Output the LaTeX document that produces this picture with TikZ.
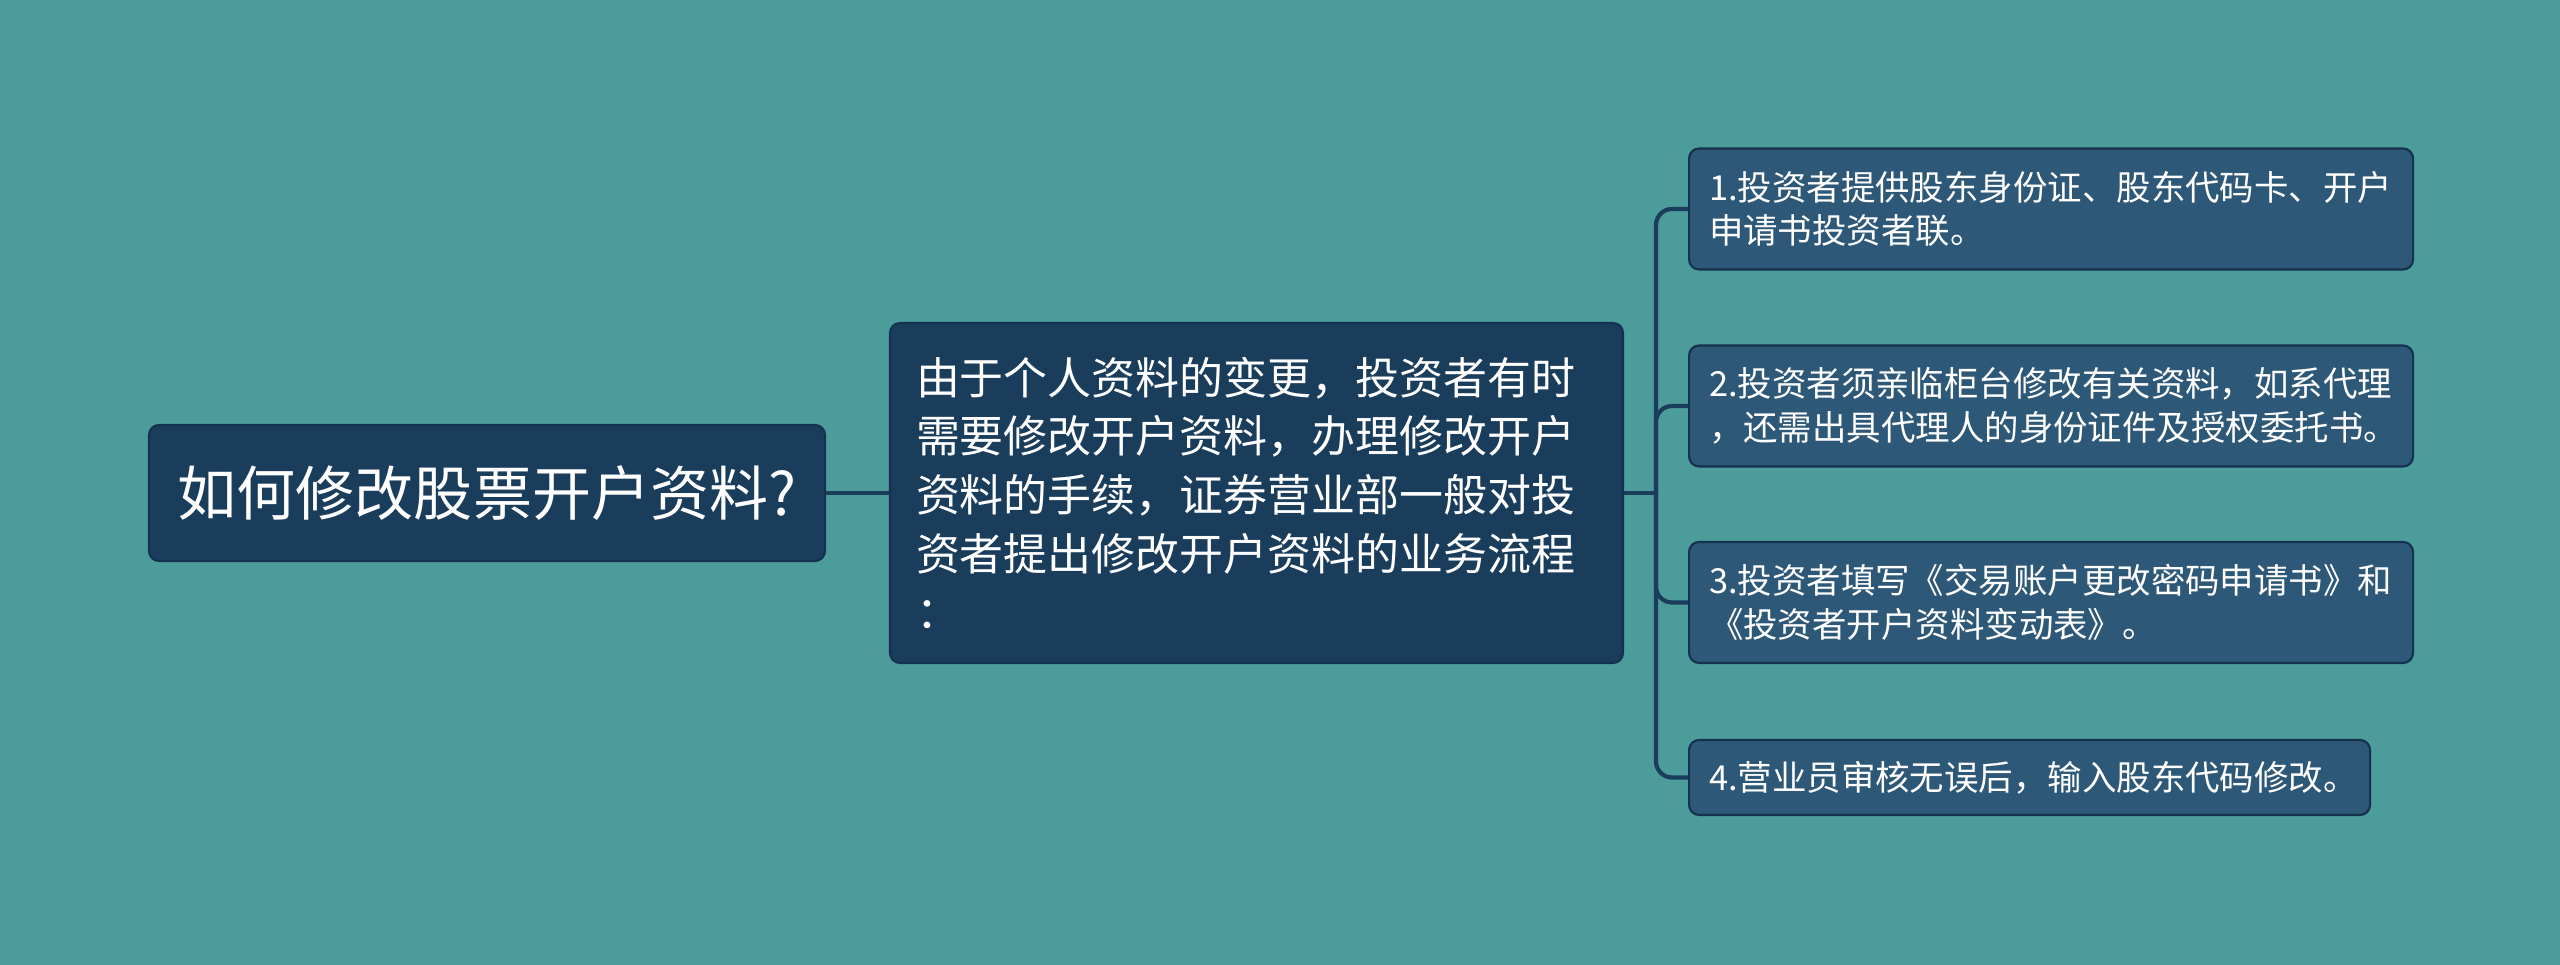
\documentclass[tikz,border=0pt]{standalone}
\usepackage{fontspec}
\newfontfamily\cjk{Noto Sans CJK SC}
\definecolor{lagoon}{HTML}{4D9C9C}
\definecolor{deepnavy}{HTML}{1A3D5C}
\definecolor{harbor}{HTML}{2E5877}
\definecolor{edgenavy}{HTML}{14324D}

\tikzset{
  topicbox/.style={draw=edgenavy, line width=0.6pt, fill=deepnavy, rounded corners=0.1cm,
    text=white, font=\cjk},
  itembox/.style={draw=edgenavy, line width=0.6pt, fill=harbor, rounded corners=0.1cm,
    text=white, anchor=west, align=left, inner xsep=0.2cm, minimum height=1.21cm,
    text width=6.84cm, font=\cjk\fontsize{9.8}{12.5}\selectfont},
  link/.style={deepnavy, line width=1.2pt}
}

\begin{document}
\begin{tikzpicture}
  \useasboundingbox (0,0) rectangle (25.6,9.65);
  \fill[lagoon] (0,0) rectangle (25.6,9.65);

  % ── Root topic (left) ──
  \node[topicbox, minimum width=6.76cm, minimum height=1.36cm,
        font=\cjk\fontsize{16.8}{20}\selectfont] (root) at (4.87,4.72) {如何修改股票开户资料?};

  % ── Middle explanation ──
  \node[topicbox, text width=6.81cm, align=left, minimum height=3.40cm, inner xsep=0.26cm,
        font=\cjk\fontsize{12.5}{16.7}\selectfont] (mid) at (12.565,4.72)
        {由于个人资料的变更，投资者有时\\需要修改开户资料，办理修改开户\\资料的手续，证券营业部一般对投\\资者提出修改开户资料的业务流程\\：};

  % ── Steps (right) ──
  \node[itembox] (c1) at (16.88,7.56) {1.投资者提供股东身份证、股东代码卡、开户\\申请书投资者联。};
  \node[itembox] (c2) at (16.88,5.59) {2.投资者须亲临柜台修改有关资料，如系代理\\，还需出具代理人的身份证件及授权委托书。};
  \node[itembox] (c3) at (16.88,3.625) {3.投资者填写《交易账户更改密码申请书》和\\《投资者开户资料变动表》。};
  \node[itembox, minimum height=0.75cm, text width=6.41cm] (c4) at (16.88,1.875) {4.营业员审核无误后，输入股东代码修改。};

  % ── Connectors ──
  \coordinate (jn) at (16.56,4.72);
  \draw[link] (root.east) -- (mid.west);
  \draw[link] (mid.east) -- (jn);
  \foreach \c in {c1,c2,c3,c4}
    \draw[link, rounded corners=0.16cm] (jn) |- (\c.west);

\end{tikzpicture}
\end{document}
